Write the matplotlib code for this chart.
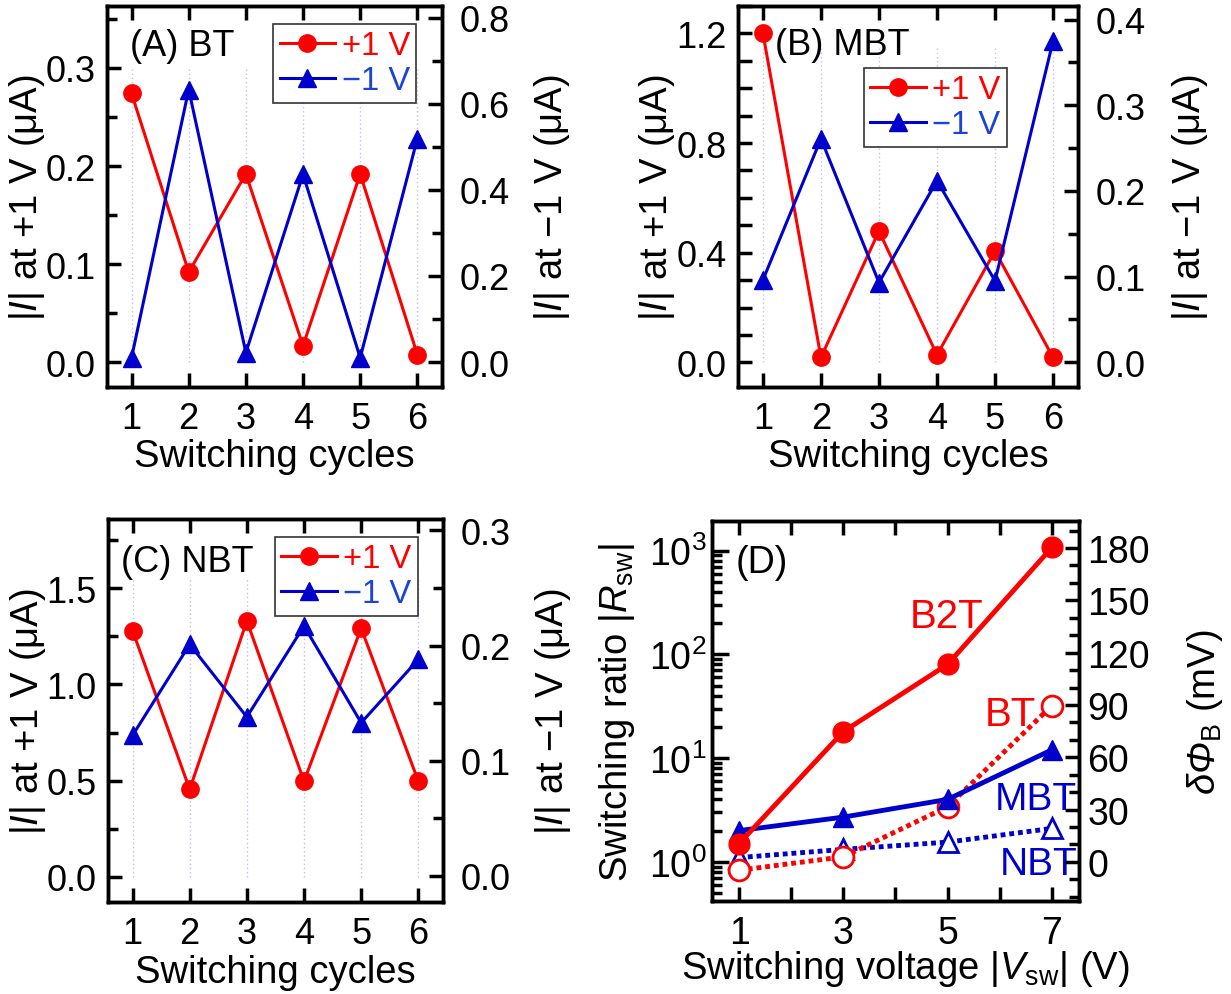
import matplotlib
matplotlib.use("Agg")
import matplotlib.pyplot as plt
import numpy as np
from matplotlib.ticker import MultipleLocator, FormatStrFormatter, LogLocator, NullFormatter

plt.rcParams.update({
    "font.family": "Liberation Sans",
    "mathtext.fontset": "custom",
    "mathtext.rm": "Liberation Sans",
    "mathtext.it": "Liberation Sans:italic",
    "mathtext.bf": "Liberation Sans:bold",
    "mathtext.sf": "Liberation Sans:italic",
    "font.size": 26,
    "axes.linewidth": 2.5,
    "xtick.direction": "in",
    "ytick.direction": "in",
    "xtick.major.size": 10,
    "ytick.major.size": 10,
    "xtick.minor.size": 7,
    "ytick.minor.size": 7,
    "xtick.major.width": 2.5,
    "ytick.major.width": 2.5,
    "xtick.minor.width": 2.5,
    "ytick.minor.width": 2.5,
    "xtick.major.pad": 8,
    "ytick.major.pad": 8,
})

RED = "#ff0000"
BLUE = "#0000cc"
BLUE_TXT = "#1a44d6"
LABEL_FS = 27.5

# switching cycles, panels A-C
cycles = [1, 2, 3, 4, 5, 6]
bt_pos = [0.274, 0.092, 0.192, 0.017, 0.192, 0.008]
bt_neg = [0.010, 0.633, 0.022, 0.436, 0.010, 0.519]
mbt_pos = [1.20, 0.018, 0.479, 0.027, 0.406, 0.018]
mbt_neg = [0.096, 0.261, 0.093, 0.212, 0.095, 0.375]
nbt_pos = [1.28, 0.455, 1.33, 0.497, 1.292, 0.497]
nbt_neg = [0.122, 0.201, 0.138, 0.217, 0.133, 0.188]

# switching ratio vs voltage, panel D
v_sw = [1, 3, 5, 7]
r_b2t = [1.5, 18, 80, 1070]
r_bt = [0.83, 1.12, 3.4, 32]
r_mbt = [2.0, 2.7, 4.0, 12]
r_nbt = [1.1, 1.32, 1.55, 2.1]
KT_MEV = 25.85  # dPhi = kT ln(R)

fig = plt.figure(figsize=(12.31, 9.95), dpi=100)


def cycle_panel(rect, pos, neg, tag, tag_xy, ylim_l, ylim_r, loc_l, loc_r, grid_top, leg_xy):
    ax = fig.add_axes(rect)
    ax2 = ax.twinx()
    ax.vlines(cycles, 0, grid_top, colors="#c0c0f0", linestyles=(0, (1, 2)), linewidth=1, zorder=0)
    l1, = ax.plot(cycles, pos, "-o", color=RED, lw=2.2, ms=12.5)
    l2, = ax2.plot(cycles, neg, "-^", color=BLUE, lw=2.2, ms=13)
    ax.set_xlim(0.57, 6.43)
    ax.set_ylim(*ylim_l)
    ax2.set_ylim(*ylim_r)
    ax.set_xticks(cycles)
    ax.yaxis.set_major_locator(MultipleLocator(loc_l[0]))
    ax.yaxis.set_minor_locator(MultipleLocator(loc_l[1]))
    ax.yaxis.set_major_formatter(FormatStrFormatter("%.1f"))
    ax2.yaxis.set_major_locator(MultipleLocator(loc_r[0]))
    ax2.yaxis.set_minor_locator(MultipleLocator(loc_r[1]))
    ax2.yaxis.set_major_formatter(FormatStrFormatter("%.1f"))
    ax.tick_params(axis="x", top=True, pad=10)
    ax.tick_params(axis="y", which="both", left=True, right=False)
    ax2.tick_params(axis="y", which="both", right=True, left=False)
    ax2.tick_params(axis="y", pad=13)
    ax.set_xlabel("Switching cycles", fontsize=LABEL_FS)
    ax.xaxis.set_label_coords(0.5, -0.135)
    ax.set_ylabel("|$I$| at +1 V (μA)", fontsize=LABEL_FS)
    ax.yaxis.set_label_coords(-0.18, 0.5)
    ax2.set_ylabel("|$I$| at \u22121 V (μA)", fontsize=LABEL_FS)
    ax2.yaxis.set_label_coords(1.27, 0.5)
    ax.text(tag_xy[0], tag_xy[1], tag, transform=ax.transAxes, ha="left", va="center", fontsize=26)
    leg = ax2.legend([l1, l2], ["+1 V", "\u22121 V"], loc="upper left", bbox_to_anchor=leg_xy,
                     borderaxespad=0, fancybox=False, edgecolor="#333333", framealpha=1,
                     handlelength=1.7, handletextpad=0.2, labelspacing=0.12, borderpad=0.2,
                     fontsize=23.5)
    leg.get_frame().set_linewidth(1.2)
    for t, c in zip(leg.get_texts(), [RED, BLUE_TXT]):
        t.set_color(c)
    return ax, ax2


ax_a, _ = cycle_panel([0.0869, 0.610, 0.2721, 0.383], bt_pos, bt_neg, "(A) BT", (0.07, 0.895),
                      (-0.025, 0.363), (-0.058, 0.827), (0.1, 0.05), (0.2, 0.1), 0.3,
                      (0.496, 0.953))

ax_b, _ = cycle_panel([0.5995, 0.610, 0.2762, 0.383], mbt_pos, mbt_neg, "(B) MBT", (0.11, 0.9),
                      (-0.09, 1.30), (-0.029, 0.416), (0.4, 0.1), (0.1, 0.05), 1.15,
                      (0.37, 0.838))
ax_b.tick_params(axis="y", which="minor", length=10)

ax_c, _ = cycle_panel([0.0877, 0.0925, 0.2721, 0.385], nbt_pos, nbt_neg, "(C) NBT", (0.04, 0.888),
                      (-0.13, 1.86), (-0.0226, 0.310), (0.5, 0.25), (0.1, 0.05), 1.55,
                      (0.4985, 0.953))

# panel D
ax_d = fig.add_axes([0.5784, 0.0935, 0.2981, 0.382])
ax_d2 = ax_d.twinx()
ax_d.plot(v_sw, r_b2t, "-o", color=RED, lw=3.5, ms=15, zorder=4)
ax_d.plot(v_sw, r_bt, linestyle=(0, (1, 0.8)), marker="o", mfc="white", mec=RED, mew=2,
          color=RED, lw=3.5, ms=15, zorder=3)
ax_d.plot(v_sw, r_mbt, "-^", color=BLUE, lw=3.5, ms=15, zorder=3)
ax_d.plot(v_sw, r_nbt, linestyle=(0, (1, 0.8)), marker="^", mfc="white", mec=BLUE, mew=2,
          color=BLUE, lw=3.5, ms=15, zorder=2)
ax_d.set_yscale("log")
ylim_d = (0.42, 1930)
ax_d.set_ylim(*ylim_d)
ax_d.set_xlim(0.48, 7.52)
ax_d.set_xticks(v_sw)
ax_d.xaxis.set_minor_locator(MultipleLocator(1))
ax_d.yaxis.set_major_locator(LogLocator(base=10, numticks=10))
ax_d.yaxis.set_minor_locator(LogLocator(base=10, subs=np.arange(2, 10), numticks=10))
ax_d.yaxis.set_minor_formatter(NullFormatter())
ax_d.tick_params(axis="x", which="both", top=True, pad=10, labelsize=27)
ax_d.tick_params(axis="x", which="minor", length=10)
ax_d.tick_params(axis="y", which="both", left=True, right=False)
ax_d.tick_params(axis="y", which="major", length=12, labelsize=27, pad=4)
ax_d2.set_ylim(KT_MEV * np.log(ylim_d[0]), KT_MEV * np.log(ylim_d[1]))
ax_d2.yaxis.set_major_locator(MultipleLocator(30))
ax_d2.yaxis.set_minor_locator(MultipleLocator(10))
ax_d2.tick_params(axis="y", which="both", right=True, left=False)
ax_d2.tick_params(axis="y", pad=6, labelsize=27)
ax_d.set_xlabel("Switching voltage |$V_{\\rm sw}$| (V)", fontsize=LABEL_FS)
ax_d.xaxis.set_label_coords(0.526, -0.125)
ax_d.set_ylabel("Switching ratio |$R_{\\rm sw}$|", fontsize=LABEL_FS)
ax_d.yaxis.set_label_coords(-0.205, 0.5)
ax_d2.set_ylabel("$\\delta\\mathsf{\\Phi}_{\\rm B}$ (mV)", fontsize=LABEL_FS)
ax_d2.yaxis.set_label_coords(1.29, 0.5)
ax_d.text(0.063, 0.892, "(D)", transform=ax_d.transAxes, ha="left", va="center", fontsize=27)
ax_d.text(0.64, 0.75, "B2T", transform=ax_d.transAxes, ha="center", va="center", fontsize=29, color=RED)
ax_d.text(0.812, 0.492, "BT", transform=ax_d.transAxes, ha="center", va="center", fontsize=29, color=RED)
ax_d.text(0.995, 0.268, "MBT", transform=ax_d.transAxes, ha="right", va="center", fontsize=28, color=BLUE)
ax_d.text(0.995, 0.097, "NBT", transform=ax_d.transAxes, ha="right", va="center", fontsize=28, color=BLUE)

fig.savefig("out.png", dpi=100)
